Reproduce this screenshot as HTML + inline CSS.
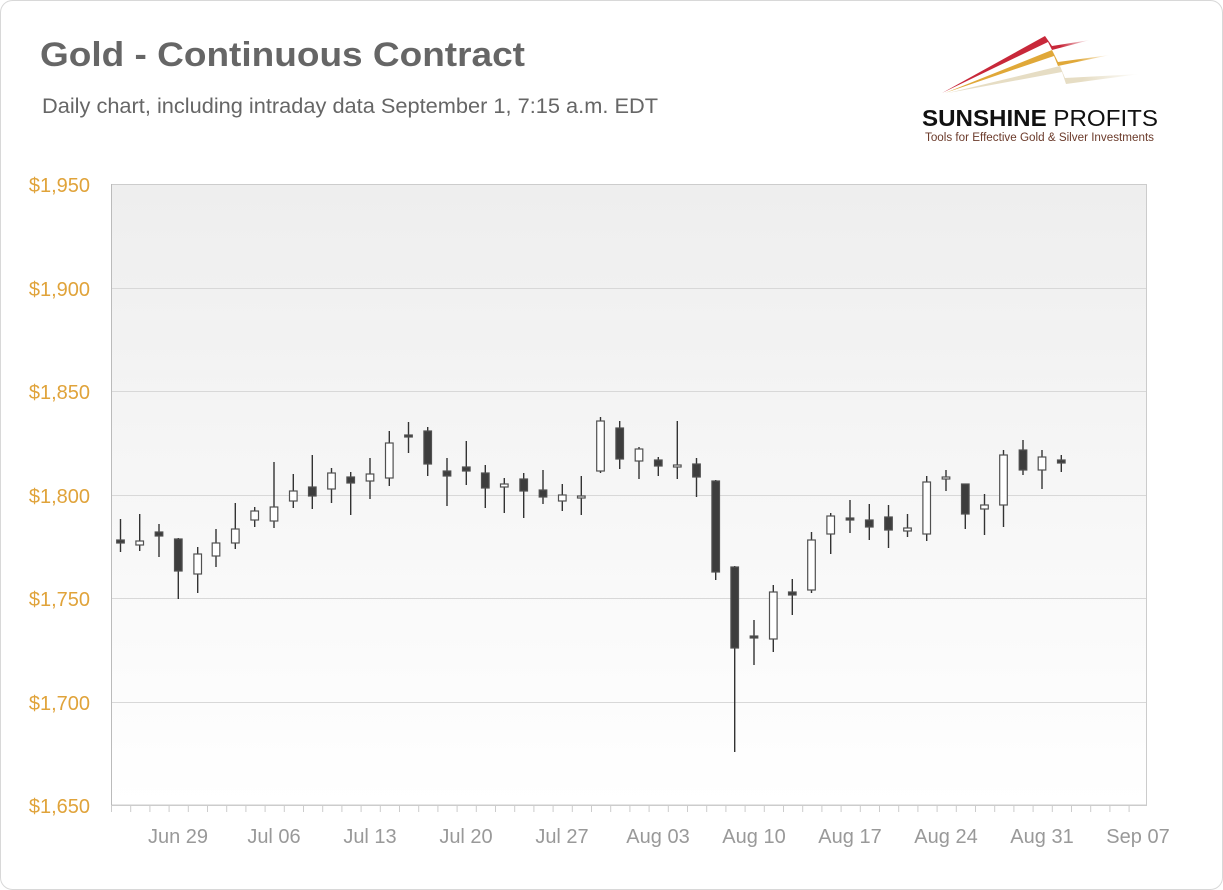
<!DOCTYPE html>
<html><head><meta charset="utf-8"><style>
body{margin:0;background:#fff;}
svg{display:block;}
</style></head><body>
<svg width="1223" height="890" xmlns="http://www.w3.org/2000/svg" font-family="Liberation Sans, sans-serif">
<defs>
<linearGradient id="bg" x1="0" y1="0" x2="0" y2="1">
<stop offset="0" stop-color="#eeeeee"/><stop offset="1" stop-color="#ffffff"/>
</linearGradient>
<linearGradient id="r1" x1="0" y1="0" x2="1" y2="0"><stop offset="0" stop-color="#c8283a"/><stop offset="0.8" stop-color="#c8283a"/><stop offset="1" stop-color="#c8283a" stop-opacity="0"/></linearGradient>
<linearGradient id="r2" x1="0" y1="0" x2="1" y2="0"><stop offset="0" stop-color="#e0a838"/><stop offset="0.8" stop-color="#e0a838"/><stop offset="1" stop-color="#e0a838" stop-opacity="0"/></linearGradient>
<linearGradient id="r3" x1="0" y1="0" x2="1" y2="0"><stop offset="0" stop-color="#e6ddc4"/><stop offset="0.7" stop-color="#e6ddc4"/><stop offset="1" stop-color="#e6ddc4" stop-opacity="0"/></linearGradient>
</defs>
<rect x="0.5" y="0.5" width="1222" height="889" rx="12" fill="#fff" stroke="#d8d8d8"/>
<text x="40" y="66" font-size="34" font-weight="bold" fill="#666" textLength="485" lengthAdjust="spacingAndGlyphs">Gold - Continuous Contract</text>
<text x="42" y="113" font-size="21" fill="#666" textLength="616" lengthAdjust="spacingAndGlyphs">Daily chart, including intraday data September 1, 7:15 a.m. EDT</text>
<!-- logo -->
<polygon points="942,93 1045,36 1052,46 1090,40 1052,50 1048,42" fill="url(#r1)"/>
<polygon points="945,93 1052,50 1058,62 1110,55 1058,66 1054,56" fill="url(#r2)"/>
<polygon points="948,93 1060,66 1065,78 1140,74 1066,84 1062,72" fill="url(#r3)"/>
<text x="922" y="126" font-size="23" font-weight="bold" fill="#111" textLength="236" lengthAdjust="spacingAndGlyphs">SUNSHINE <tspan font-weight="normal">PROFITS</tspan></text>
<text x="925" y="141" font-size="11.5" fill="#6b3a2a" textLength="229" lengthAdjust="spacingAndGlyphs">Tools for Effective Gold &amp; Silver Investments</text>
<!-- plot -->
<rect x="111.5" y="184.5" width="1035" height="620.5" fill="url(#bg)" stroke="#cccccc"/>
<g stroke="#d8d8d8" stroke-width="1">
<line x1="112" y1="288.5" x2="1146" y2="288.5"/>
<line x1="112" y1="391.5" x2="1146" y2="391.5"/>
<line x1="112" y1="495.5" x2="1146" y2="495.5"/>
<line x1="112" y1="598.5" x2="1146" y2="598.5"/>
<line x1="112" y1="702.5" x2="1146" y2="702.5"/>
</g>
<line x1="111.5" y1="184" x2="111.5" y2="806" stroke="#bbb"/>
<line x1="111" y1="805.5" x2="1147" y2="805.5" stroke="#ccc"/>
<g id="ticks" stroke="#ccc"></g>
<g font-size="20" fill="#e0a33a" text-anchor="end">
<text x="90" y="192">$1,950</text>
<text x="90" y="296">$1,900</text>
<text x="90" y="399">$1,850</text>
<text x="90" y="503">$1,800</text>
<text x="90" y="606">$1,750</text>
<text x="90" y="710">$1,700</text>
<text x="90" y="813">$1,650</text>
</g>
<g font-size="20" fill="#999" text-anchor="middle">
<text x="178" y="843">Jun 29</text>
<text x="274" y="843">Jul 06</text>
<text x="370" y="843">Jul 13</text>
<text x="466" y="843">Jul 20</text>
<text x="562" y="843">Jul 27</text>
<text x="658" y="843">Aug 03</text>
<text x="754" y="843">Aug 10</text>
<text x="850" y="843">Aug 17</text>
<text x="946" y="843">Aug 24</text>
<text x="1042" y="843">Aug 31</text>
<text x="1138" y="843">Sep 07</text>
</g>
<g id="candles"></g>
<script>
(function(){
var ns="http://www.w3.org/2000/svg";
var t=document.getElementById("ticks");
for(var x=111.5;x<1148;x+=19.2){var l=document.createElementNS(ns,"line");l.setAttribute("x1",x.toFixed(1));l.setAttribute("x2",x.toFixed(1));l.setAttribute("y1",805);l.setAttribute("y2",812);t.appendChild(l);}
var c=[
[120.5,540,543,519,552,1],[139.7,541,545,514,551,0],[159,532,536,524,557,1],[178.3,539,571,538,599,1],
[197.7,554,574,547,593,0],[216,543,556,529,567,0],[235.3,529,543,503,549,0],[254.7,511,520,507,527,0],
[274,507,521,462,528,0],[293.3,491,501,474,508,0],[312.3,487,496,455,509,1],[331.5,473,489,468,503,0],
[350.7,477,483,472,515,1],[370,474,481,458,499,0],[389.3,443,478,431,486,0],[408.5,435,437,422,453,1],
[427.7,431,464,427,476,1],[447,471,476,458,506,1],[466.3,467,471,441,485,1],[485.3,473,488,465,508,1],
[504.3,484,487,478,513,0],[523.7,479,491,473,518,1],[543,490,497,470,504,1],[562.3,495,501,484,511,0],
[581.3,496,498,476,515,0],[600.5,421,471,417,473,0],[619.7,428,459,421,469,1],[639,449,461,447,479,0],
[658.3,460,466,457,476,1],[677.3,465,467,421,479,0],[696.5,464,477,458,497,1],[715.7,481,572,480,580,1],
[734.7,567,648,566,752,1],[754,636,638,620,665,1],[773.3,592,639,585,652,0],[792.3,592,595,579,615,1],
[811.5,540,590,532,593,0],[830.7,516,534,513,554,0],[850,518,520,500,533,1],[869.3,520,527,504,540,1],
[888.5,517,530,505,548,1],[907.5,528,531,514,537,0],[926.7,482,534,476,541,0],[946,477,479,470,491,0],
[965.3,484,514,484,529,1],[984.5,505,509,494,535,0],[1003.5,455,505,450,527,0],[1023,450,470,440,475,1],
[1042,457,470,450,489,0],[1061.3,460,463,455,472,1]];
var g=document.getElementById("candles");
c.forEach(function(d){
var l=document.createElementNS(ns,"line");l.setAttribute("x1",d[0]);l.setAttribute("x2",d[0]);l.setAttribute("y1",d[3]);l.setAttribute("y2",d[4]);l.setAttribute("stroke","#333");l.setAttribute("stroke-width","1.4");g.appendChild(l);
var r=document.createElementNS(ns,"rect");var h=Math.max(d[2]-d[1],2);
r.setAttribute("x",d[0]-3.8);r.setAttribute("y",d[1]);r.setAttribute("width",7.6);r.setAttribute("height",h);
r.setAttribute("fill",d[5]?"#3d3d3d":"#fff");r.setAttribute("stroke","#505050");r.setAttribute("stroke-width","1.2");g.appendChild(r);
});
})();
</script>
</svg>
</body></html>
